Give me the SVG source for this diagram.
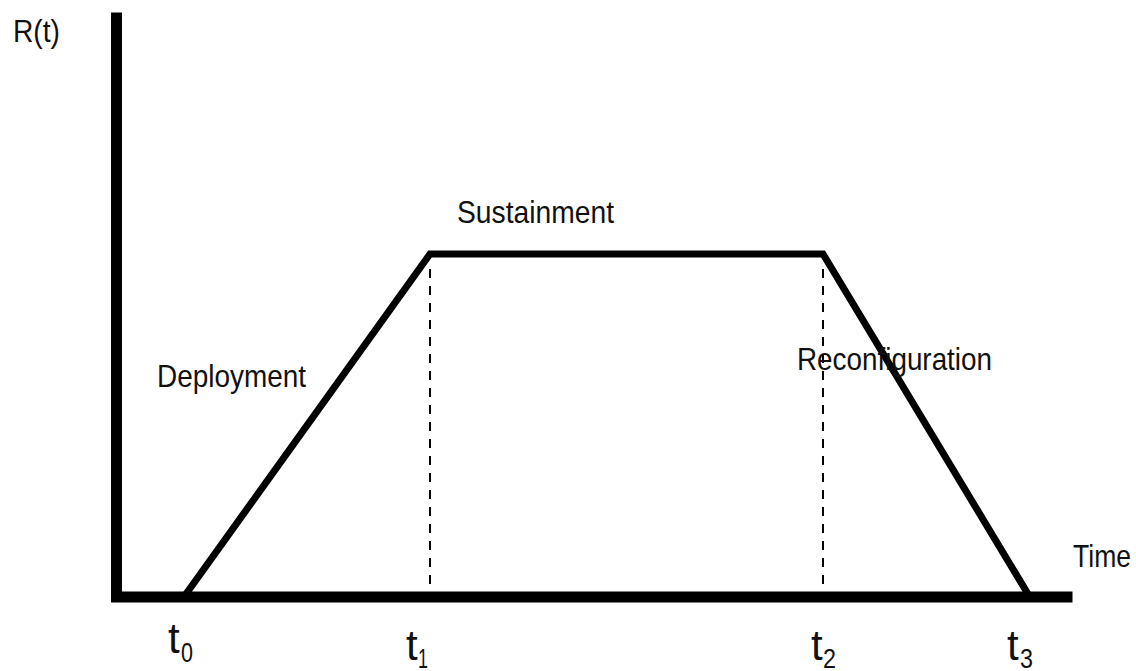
<svg xmlns="http://www.w3.org/2000/svg" width="1136" height="671" viewBox="0 0 1136 671">
<style>
.axis{stroke:#000;stroke-width:11;fill:none;stroke-linecap:square}
.curve{stroke:#000;stroke-width:7;fill:none;stroke-linejoin:miter}
.dash{stroke:#000;stroke-width:2;stroke-dasharray:9 8;fill:none}
.lbl{font-family:"Liberation Sans",Arial,sans-serif;font-size:32px;fill:#111}
.t{font-family:"Liberation Sans",Arial,sans-serif;font-size:42px;fill:#111}
.s{font-family:"Liberation Sans",Arial,sans-serif;font-size:27px;fill:#111}
</style>
<rect width="1136" height="671" fill="#fff"/>
<g id="connectors">
<path class="axis" d="M116.5,18 V597 H1067"/>
<path class="curve" d="M186,594 L430,254 L823,254 L1028,594"/>
<path class="dash" d="M430,269 V592"/>
<path class="dash" d="M823,269 V592"/>
</g>
<g id="axis-label-r"><text class="lbl" x="13" y="42" textLength="47" lengthAdjust="spacingAndGlyphs">R(t)</text></g>
<g id="axis-label-time"><text class="lbl" x="1073" y="567" textLength="58" lengthAdjust="spacingAndGlyphs">Time</text></g>
<g id="label-sustainment"><text class="lbl" x="457" y="223" textLength="157" lengthAdjust="spacingAndGlyphs">Sustainment</text></g>
<g id="label-deployment"><text class="lbl" x="157" y="387" textLength="149" lengthAdjust="spacingAndGlyphs">Deployment</text></g>
<g id="label-reconfiguration"><text class="lbl" x="797" y="370" textLength="195" lengthAdjust="spacingAndGlyphs">Reconfiguration</text></g>
<g id="t0"><text class="t" x="168" y="653">t</text><text class="s" x="181" y="662" textLength="12" lengthAdjust="spacingAndGlyphs">0</text></g>
<g id="t1"><text class="t" x="406" y="660">t</text><text class="s" x="418" y="668" textLength="10" lengthAdjust="spacingAndGlyphs">1</text></g>
<g id="t2"><text class="t" x="811" y="660">t</text><text class="s" x="823" y="668" textLength="13" lengthAdjust="spacingAndGlyphs">2</text></g>
<g id="t3"><text class="t" x="1007" y="660">t</text><text class="s" x="1020" y="668" textLength="13" lengthAdjust="spacingAndGlyphs">3</text></g>
</svg>
